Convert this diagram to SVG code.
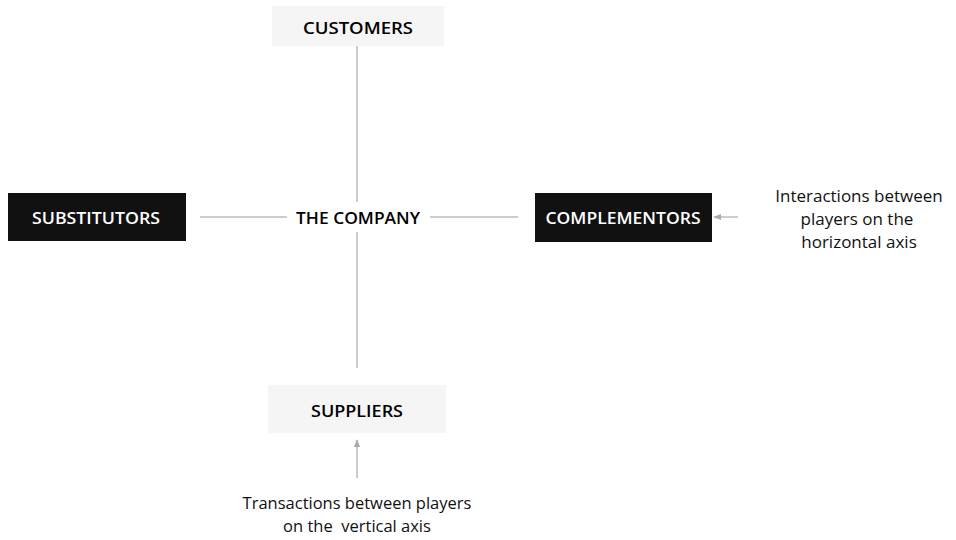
<svg xmlns="http://www.w3.org/2000/svg" width="956" height="540" viewBox="0 0 956 540">
<style>
.lbl{font-family:"Open Sans","Noto Sans","Liberation Sans",sans-serif;font-size:17px;font-weight:600;text-anchor:middle;dominant-baseline:central}
.dark rect{fill:#111}
.dark text{fill:#fff}
.light rect{fill:#f5f5f5}
.light text,.plain text{fill:#000}
.note{font-family:"Open Sans","Noto Sans","Liberation Sans",sans-serif;text-anchor:middle;fill:#111;white-space:pre}
.nh{font-size:17px}
.nv{font-size:16.5px}
.conn{stroke:#999;stroke-width:1;fill:none}
</style>
<defs>
<marker id="ah" viewBox="0 0 10 10" refX="9" refY="5" markerWidth="8" markerHeight="8" orient="auto-start-reverse">
<path d="M0,1 L10,5 L0,9 z" fill="#aaa"/>
</marker>
</defs>
<rect width="956" height="540" fill="#fff"/>
<g id="connectors">
<line class="conn" x1="357" y1="46" x2="357" y2="202"/>
<line class="conn" x1="357" y1="232" x2="357" y2="368"/>
<line class="conn" x1="200" y1="217" x2="287" y2="217"/>
<line class="conn" x1="430" y1="217" x2="518" y2="217"/>
<line class="conn" x1="738" y1="217" x2="714" y2="217" marker-end="url(#ah)"/>
<line class="conn" x1="357" y1="478" x2="357" y2="440" marker-end="url(#ah)"/>
</g>
<g id="customers" class="light">
<rect x="272" y="6" width="172" height="40"/>
<text class="lbl" x="358" y="27" textLength="110" lengthAdjust="spacingAndGlyphs">CUSTOMERS</text>
</g>
<g id="substitutors" class="dark">
<rect x="8" y="193" width="178" height="48"/>
<text class="lbl" x="96" y="217" textLength="128" lengthAdjust="spacingAndGlyphs">SUBSTITUTORS</text>
</g>
<g id="company" class="plain">
<text class="lbl" x="358" y="217" textLength="124" lengthAdjust="spacingAndGlyphs">THE COMPANY</text>
</g>
<g id="complementors" class="dark">
<rect x="535" y="193" width="177" height="49"/>
<text class="lbl" x="623" y="217" textLength="155" lengthAdjust="spacingAndGlyphs">COMPLEMENTORS</text>
</g>
<g id="suppliers" class="light">
<rect x="268" y="385" width="178" height="48"/>
<text class="lbl" x="357" y="410" textLength="92" lengthAdjust="spacingAndGlyphs">SUPPLIERS</text>
</g>
<g id="note-horizontal">
<text class="note nh" x="859" y="202">Interactions between</text>
<text class="note nh" x="857" y="225">players on the</text>
<text class="note nh" x="859" y="248">horizontal axis</text>
</g>
<g id="note-vertical">
<text class="note nv" x="357" y="509">Transactions between players</text>
<text class="note nv" x="357" y="532">on the  vertical axis</text>
</g>
</svg>
